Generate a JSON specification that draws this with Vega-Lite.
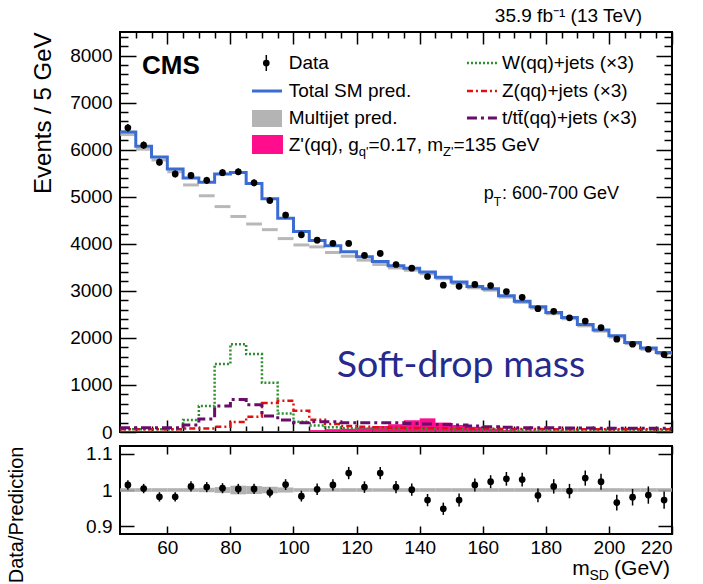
{
"$schema": "https://vega.github.io/schema/vega-lite/v6.json",
"padding": {"left": 5, "top": 5, "right": 5, "bottom": 5},
"background": "white",
"datasets": {
"bins": [
{"lo":45,"hi":50,"c":47.5,"data":6464,"err":80,"pred":6375,"mj":6320,"w3":60,"z3":57,"t3":91,"sig":15,"ratio":1.014,"rerr":0.013,"blo":0.995,"bhi":1.005},
{"lo":50,"hi":55,"c":52.5,"data":6096,"err":78,"pred":6072,"mj":6010,"w3":60,"z3":57,"t3":91,"sig":15,"ratio":1.004,"rerr":0.013,"blo":0.995,"bhi":1.005},
{"lo":55,"hi":60,"c":57.5,"data":5734,"err":76,"pred":5845,"mj":5780,"w3":60,"z3":57,"t3":91,"sig":15,"ratio":0.981,"rerr":0.013,"blo":0.995,"bhi":1.005},
{"lo":60,"hi":65,"c":62.5,"data":5484,"err":74,"pred":5590,"mj":5530,"w3":60,"z3":57,"t3":91,"sig":15,"ratio":0.981,"rerr":0.013,"blo":0.995,"bhi":1.005},
{"lo":65,"hi":70,"c":67.5,"data":5453,"err":74,"pred":5399,"mj":5250,"w3":254,"z3":72,"t3":148,"sig":15,"ratio":1.010,"rerr":0.014,"blo":0.995,"bhi":1.005},
{"lo":70,"hi":75,"c":72.5,"data":5349,"err":73,"pred":5307,"mj":5020,"w3":551,"z3":72,"t3":276,"sig":15,"ratio":1.008,"rerr":0.014,"blo":0.994,"bhi":1.006},
{"lo":75,"hi":80,"c":77.5,"data":5511,"err":74,"pred":5484,"mj":4790,"w3":1443,"z3":113,"t3":551,"sig":15,"ratio":1.005,"rerr":0.014,"blo":0.992,"bhi":1.008},
{"lo":80,"hi":85,"c":82.5,"data":5530,"err":74,"pred":5513,"mj":4580,"w3":1867,"z3":212,"t3":693,"sig":15,"ratio":1.003,"rerr":0.014,"blo":0.988,"bhi":1.012},
{"lo":85,"hi":90,"c":87.5,"data":5296,"err":73,"pred":5280,"mj":4420,"w3":1655,"z3":325,"t3":580,"sig":15,"ratio":1.003,"rerr":0.014,"blo":0.989,"bhi":1.011},
{"lo":90,"hi":95,"c":92.5,"data":4919,"err":70,"pred":4954,"mj":4300,"w3":1047,"z3":615,"t3":339,"sig":15,"ratio":0.993,"rerr":0.014,"blo":0.991,"bhi":1.009},
{"lo":95,"hi":100,"c":97.5,"data":4611,"err":68,"pred":4543,"mj":4110,"w3":395,"z3":665,"t3":254,"sig":15,"ratio":1.015,"rerr":0.015,"blo":0.993,"bhi":1.007},
{"lo":100,"hi":105,"c":102.5,"data":4189,"err":65,"pred":4261,"mj":3975,"w3":219,"z3":453,"t3":198,"sig":20,"ratio":0.983,"rerr":0.015,"blo":0.995,"bhi":1.005},
{"lo":105,"hi":110,"c":107.5,"data":4077,"err":64,"pred":4069,"mj":3934,"w3":140,"z3":260,"t3":220,"sig":40,"ratio":1.002,"rerr":0.016,"blo":0.995,"bhi":1.005},
{"lo":110,"hi":115,"c":112.5,"data":4011,"err":63,"pred":3956,"mj":3814,"w3":100,"z3":170,"t3":220,"sig":60,"ratio":1.014,"rerr":0.016,"blo":0.995,"bhi":1.005},
{"lo":115,"hi":120,"c":117.5,"data":4008,"err":63,"pred":3828,"mj":3736,"w3":80,"z3":130,"t3":197,"sig":70,"ratio":1.047,"rerr":0.017,"blo":0.995,"bhi":1.005},
{"lo":120,"hi":125,"c":122.5,"data":3753,"err":61,"pred":3723,"mj":3652,"w3":70,"z3":110,"t3":197,"sig":90,"ratio":1.008,"rerr":0.016,"blo":0.995,"bhi":1.005},
{"lo":125,"hi":130,"c":127.5,"data":3794,"err":62,"pred":3624,"mj":3560,"w3":65,"z3":100,"t3":197,"sig":130,"ratio":1.047,"rerr":0.017,"blo":0.995,"bhi":1.005},
{"lo":130,"hi":135,"c":132.5,"data":3559,"err":60,"pred":3531,"mj":3486,"w3":65,"z3":90,"t3":197,"sig":165,"ratio":1.008,"rerr":0.017,"blo":0.995,"bhi":1.005},
{"lo":135,"hi":140,"c":137.5,"data":3481,"err":59,"pred":3478,"mj":3438,"w3":60,"z3":85,"t3":180,"sig":250,"ratio":1.001,"rerr":0.017,"blo":0.995,"bhi":1.005},
{"lo":140,"hi":145,"c":142.5,"data":3304,"err":57,"pred":3399,"mj":3364,"w3":60,"z3":80,"t3":170,"sig":290,"ratio":0.972,"rerr":0.017,"blo":0.995,"bhi":1.005},
{"lo":145,"hi":150,"c":147.5,"data":3119,"err":56,"pred":3290,"mj":3258,"w3":60,"z3":80,"t3":160,"sig":200,"ratio":0.948,"rerr":0.017,"blo":0.995,"bhi":1.005},
{"lo":150,"hi":155,"c":152.5,"data":3096,"err":56,"pred":3185,"mj":3155,"w3":55,"z3":75,"t3":150,"sig":150,"ratio":0.972,"rerr":0.018,"blo":0.995,"bhi":1.005},
{"lo":155,"hi":160,"c":157.5,"data":3136,"err":56,"pred":3093,"mj":3063,"w3":55,"z3":70,"t3":130,"sig":110,"ratio":1.014,"rerr":0.018,"blo":0.995,"bhi":1.005},
{"lo":160,"hi":165,"c":162.5,"data":3113,"err":56,"pred":3043,"mj":3013,"w3":55,"z3":70,"t3":110,"sig":70,"ratio":1.023,"rerr":0.018,"blo":0.995,"bhi":1.005},
{"lo":165,"hi":170,"c":167.5,"data":2984,"err":55,"pred":2894,"mj":2866,"w3":50,"z3":65,"t3":100,"sig":40,"ratio":1.031,"rerr":0.019,"blo":0.995,"bhi":1.005},
{"lo":170,"hi":175,"c":172.5,"data":2862,"err":53,"pred":2781,"mj":2754,"w3":50,"z3":65,"t3":90,"sig":30,"ratio":1.029,"rerr":0.019,"blo":0.995,"bhi":1.005},
{"lo":175,"hi":180,"c":177.5,"data":2620,"err":51,"pred":2660,"mj":2633,"w3":50,"z3":65,"t3":90,"sig":30,"ratio":0.985,"rerr":0.019,"blo":0.995,"bhi":1.005},
{"lo":180,"hi":185,"c":182.5,"data":2565,"err":51,"pred":2540,"mj":2513,"w3":50,"z3":60,"t3":90,"sig":25,"ratio":1.010,"rerr":0.020,"blo":0.995,"bhi":1.005},
{"lo":185,"hi":190,"c":187.5,"data":2427,"err":49,"pred":2434,"mj":2407,"w3":45,"z3":60,"t3":85,"sig":25,"ratio":0.997,"rerr":0.020,"blo":0.995,"bhi":1.005},
{"lo":190,"hi":195,"c":192.5,"data":2358,"err":49,"pred":2283,"mj":2256,"w3":45,"z3":60,"t3":85,"sig":20,"ratio":1.033,"rerr":0.021,"blo":0.995,"bhi":1.005},
{"lo":195,"hi":200,"c":197.5,"data":2220,"err":47,"pred":2170,"mj":2143,"w3":45,"z3":60,"t3":80,"sig":20,"ratio":1.023,"rerr":0.022,"blo":0.995,"bhi":1.005},
{"lo":200,"hi":205,"c":202.5,"data":1972,"err":44,"pred":2044,"mj":2017,"w3":45,"z3":57,"t3":80,"sig":20,"ratio":0.965,"rerr":0.022,"blo":0.995,"bhi":1.005},
{"lo":205,"hi":210,"c":207.5,"data":1865,"err":43,"pred":1903,"mj":1876,"w3":45,"z3":57,"t3":80,"sig":15,"ratio":0.980,"rerr":0.023,"blo":0.995,"bhi":1.005},
{"lo":210,"hi":215,"c":212.5,"data":1758,"err":42,"pred":1783,"mj":1756,"w3":45,"z3":57,"t3":80,"sig":15,"ratio":0.986,"rerr":0.024,"blo":0.995,"bhi":1.005},
{"lo":215,"hi":220,"c":217.5,"data":1645,"err":40,"pred":1692,"mj":1665,"w3":45,"z3":57,"t3":80,"sig":15,"ratio":0.972,"rerr":0.024,"blo":0.995,"bhi":1.005}
]
},
"config": {
"view": {"stroke": "black", "strokeWidth": 2},
"font": "Liberation Sans",
"axis": {"domain": false, "grid": false, "tickColor": "black", "tickWidth": 1.5, "labelFont": "Liberation Sans", "labelFontSize": 19, "labelColor": "black", "titleFont": "Liberation Sans", "titleFontWeight": "normal", "titleColor": "black", "minExtent": 0, "zindex": 1},
"text": {"font": "Liberation Sans", "color": "black"}
},
"vconcat": [
{
"width": 552, "height": 400,
"data": {"name": "bins"},
"resolve": {"axis": {"x": "independent", "y": "independent"}},
"layer": [
{"mark": {"type": "rect", "color": "#ff0d8d"},
 "encoding": {
  "x": {"field": "lo", "type": "quantitative", "scale": {"domain": [45, 220], "nice": false, "zero": false}, "axis": {"orient": "bottom", "values": [60,80,100,120,140,160,180,200,220], "labels": false, "tickSize": -12, "title": null}},
  "x2": {"field": "hi"},
  "y": {"field": "sig", "type": "quantitative", "scale": {"domain": [0, 8500], "nice": false}, "axis": {"orient": "left", "values": [0,1000,2000,3000,4000,5000,6000,7000,8000], "format": "d", "tickSize": -16, "labelPadding": 24, "title": "Events / 5 GeV", "titleFontSize": 24, "titleAnchor": "end", "titlePadding": 14}},
  "y2": {"datum": 0}
 }},
{"mark": {"type": "tick", "color": "#a0a0a0", "opacity": 0.75, "size": 15.8, "thickness": 3, "orient": "horizontal"},
 "encoding": {
  "x": {"field": "c", "type": "quantitative", "scale": {"domain": [45, 220], "nice": false, "zero": false}, "axis": {"orient": "top", "values": [60,80,100,120,140,160,180,200,220], "labels": false, "tickSize": -12, "title": null}},
  "y": {"field": "mj", "type": "quantitative", "scale": {"domain": [0, 8500], "nice": false}, "axis": {"orient": "right", "values": [0,1000,2000,3000,4000,5000,6000,7000,8000], "labels": false, "tickSize": -16, "title": null}}
 }},
{"transform": [{"fold": ["lo", "hi"], "as": ["key", "edge"]}],
 "mark": {"type": "line", "color": "#2f8f2f", "strokeWidth": 2.5, "strokeDash": [2, 2]},
 "encoding": {
  "x": {"field": "edge", "type": "quantitative", "scale": {"domain": [45, 220], "nice": false, "zero": false}, "axis": {"orient": "bottom", "values": [50,55,65,70,75,85,90,95,105,110,115,125,130,135,145,150,155,165,170,175,185,190,195,205,210,215], "labels": false, "tickSize": -6, "title": null}},
  "y": {"field": "w3", "type": "quantitative", "scale": {"domain": [0, 8500], "nice": false}, "axis": {"orient": "left", "values": [200,400,600,800,1200,1400,1600,1800,2200,2400,2600,2800,3200,3400,3600,3800,4200,4400,4600,4800,5200,5400,5600,5800,6200,6400,6600,6800,7200,7400,7600,7800,8200,8400], "labels": false, "tickSize": -8, "title": null}},
  "order": [{"field": "edge", "type": "quantitative"}, {"field": "key", "type": "nominal"}]
 }},
{"transform": [{"fold": ["lo", "hi"], "as": ["key", "edge"]}],
 "mark": {"type": "line", "color": "#e01010", "strokeWidth": 2.5, "strokeDash": [6, 3, 2, 3]},
 "encoding": {
  "x": {"field": "edge", "type": "quantitative", "scale": {"domain": [45, 220], "nice": false, "zero": false}, "axis": {"orient": "top", "values": [50,55,65,70,75,85,90,95,105,110,115,125,130,135,145,150,155,165,170,175,185,190,195,205,210,215], "labels": false, "tickSize": -6, "title": null}},
  "y": {"field": "z3", "type": "quantitative", "scale": {"domain": [0, 8500], "nice": false}, "axis": {"orient": "right", "values": [200,400,600,800,1200,1400,1600,1800,2200,2400,2600,2800,3200,3400,3600,3800,4200,4400,4600,4800,5200,5400,5600,5800,6200,6400,6600,6800,7200,7400,7600,7800,8200,8400], "labels": false, "tickSize": -8, "title": null}},
  "order": [{"field": "edge", "type": "quantitative"}, {"field": "key", "type": "nominal"}]
 }},
{"transform": [{"fold": ["lo", "hi"], "as": ["key", "edge"]}],
 "mark": {"type": "line", "color": "#6a0d6a", "strokeWidth": 3, "strokeDash": [10, 4, 3, 4]},
 "encoding": {
  "x": {"field": "edge", "type": "quantitative", "scale": {"domain": [45, 220], "nice": false, "zero": false}, "axis": null},
  "y": {"field": "t3", "type": "quantitative", "scale": {"domain": [0, 8500], "nice": false}, "axis": null},
  "order": [{"field": "edge", "type": "quantitative"}, {"field": "key", "type": "nominal"}]
 }},
{"transform": [{"fold": ["lo", "hi"], "as": ["key", "edge"]}],
 "mark": {"type": "line", "color": "#3a6cd4", "strokeWidth": 3},
 "encoding": {
  "x": {"field": "edge", "type": "quantitative", "scale": {"domain": [45, 220], "nice": false, "zero": false}, "axis": null},
  "y": {"field": "pred", "type": "quantitative", "scale": {"domain": [0, 8500], "nice": false}, "axis": null},
  "order": [{"field": "edge", "type": "quantitative"}, {"field": "key", "type": "nominal"}]
 }},
{"mark": {"type": "errorbar", "color": "black", "thickness": 1.5},
 "encoding": {
  "x": {"field": "c", "type": "quantitative", "scale": {"domain": [45, 220], "nice": false, "zero": false}, "axis": null},
  "y": {"field": "data", "type": "quantitative", "scale": {"domain": [0, 8500], "nice": false}, "axis": null},
  "yError": {"field": "err"}
 }},
{"mark": {"type": "circle", "color": "black", "opacity": 1, "size": 45},
 "encoding": {
  "x": {"field": "c", "type": "quantitative", "scale": {"domain": [45, 220], "nice": false, "zero": false}, "axis": null},
  "y": {"field": "data", "type": "quantitative", "scale": {"domain": [0, 8500], "nice": false}, "axis": null}
 }},
{"data": {"values": [{}]}, "mark": {"type": "text", "fontSize": 26, "fontWeight": "bold", "align": "left", "baseline": "middle"},
 "encoding": {"x": {"datum": 51.97, "type": "quantitative", "scale": {"domain": [45, 220], "nice": false, "zero": false}, "axis": null}, "y": {"datum": 7777, "type": "quantitative", "scale": {"domain": [0, 8500], "nice": false}, "axis": null}, "text": {"value": "CMS"}}},
{"data": {"values": [{}]}, "mark": {"type": "rule", "color": "black", "strokeWidth": 1.5},
 "encoding": {"x": {"datum": 91.38, "type": "quantitative", "scale": {"domain": [45, 220], "nice": false, "zero": false}, "axis": null}, "y": {"datum": 7671, "type": "quantitative", "scale": {"domain": [0, 8500], "nice": false}, "axis": null}, "y2": {"datum": 8011}}},
{"data": {"values": [{}]}, "mark": {"type": "circle", "color": "black", "opacity": 1, "size": 45},
 "encoding": {"x": {"datum": 91.38, "type": "quantitative", "scale": {"domain": [45, 220], "nice": false, "zero": false}, "axis": null}, "y": {"datum": 7841, "type": "quantitative", "scale": {"domain": [0, 8500], "nice": false}, "axis": null}}},
{"data": {"values": [{}]}, "mark": {"type": "rule", "color": "#3a6cd4", "strokeWidth": 3},
 "encoding": {"x": {"datum": 86.85, "type": "quantitative", "scale": {"domain": [45, 220], "nice": false, "zero": false}, "axis": null}, "x2": {"datum": 96.36}, "y": {"datum": 7246, "type": "quantitative", "scale": {"domain": [0, 8500], "nice": false}, "axis": null}}},
{"data": {"values": [{}]}, "mark": {"type": "rect", "color": "#b4b4b4"},
 "encoding": {"x": {"datum": 86.85, "type": "quantitative", "scale": {"domain": [45, 220], "nice": false, "zero": false}, "axis": null}, "x2": {"datum": 96.36}, "y": {"datum": 6842, "type": "quantitative", "scale": {"domain": [0, 8500], "nice": false}, "axis": null}, "y2": {"datum": 6481}}},
{"data": {"values": [{}]}, "mark": {"type": "rect", "color": "#ff0d8d"},
 "encoding": {"x": {"datum": 86.85, "type": "quantitative", "scale": {"domain": [45, 220], "nice": false, "zero": false}, "axis": null}, "x2": {"datum": 96.68}, "y": {"datum": 6311, "type": "quantitative", "scale": {"domain": [0, 8500], "nice": false}, "axis": null}, "y2": {"datum": 5908}}},
{"data": {"values": [{}]}, "mark": {"type": "rule", "color": "#2f8f2f", "strokeWidth": 2.5, "strokeDash": [2, 2]},
 "encoding": {"x": {"datum": 155.0, "type": "quantitative", "scale": {"domain": [45, 220], "nice": false, "zero": false}, "axis": null}, "x2": {"datum": 164.5}, "y": {"datum": 7841, "type": "quantitative", "scale": {"domain": [0, 8500], "nice": false}, "axis": null}}},
{"data": {"values": [{}]}, "mark": {"type": "rule", "color": "#e01010", "strokeWidth": 2.5, "strokeDash": [6, 3, 2, 3]},
 "encoding": {"x": {"datum": 155.0, "type": "quantitative", "scale": {"domain": [45, 220], "nice": false, "zero": false}, "axis": null}, "x2": {"datum": 164.5}, "y": {"datum": 7246, "type": "quantitative", "scale": {"domain": [0, 8500], "nice": false}, "axis": null}}},
{"data": {"values": [{}]}, "mark": {"type": "rule", "color": "#6a0d6a", "strokeWidth": 3, "strokeDash": [10, 4, 3, 4]},
 "encoding": {"x": {"datum": 155.0, "type": "quantitative", "scale": {"domain": [45, 220], "nice": false, "zero": false}, "axis": null}, "x2": {"datum": 164.5}, "y": {"datum": 6672, "type": "quantitative", "scale": {"domain": [0, 8500], "nice": false}, "axis": null}}},
{"data": {"values": [
  {"t": "Data", "gx": 98.48, "gy": 7841},
  {"t": "Total SM pred.", "gx": 98.48, "gy": 7246},
  {"t": "Multijet pred.", "gx": 98.48, "gy": 6672},
  {"t": "Z'(qq), g", "gx": 98.48, "gy": 6099},
  {"t": "=0.17, m", "gx": 123.8, "gy": 6099},
  {"t": "=135 GeV", "gx": 150.7, "gy": 6099},
  {"t": "W(qq)+jets (×3)", "gx": 166.1, "gy": 7841},
  {"t": "Z(qq)+jets (×3)", "gx": 166.1, "gy": 7246},
  {"t": "t/tt̄(qq)+jets (×3)", "gx": 166.1, "gy": 6672}
 ]},
 "mark": {"type": "text", "fontSize": 19, "align": "left", "baseline": "middle"},
 "encoding": {"x": {"field": "gx", "type": "quantitative", "scale": {"domain": [45, 220], "nice": false, "zero": false}, "axis": null}, "y": {"field": "gy", "type": "quantitative", "scale": {"domain": [0, 8500], "nice": false}, "axis": null}, "text": {"field": "t"}}},
{"data": {"values": [
  {"t": "q'", "gx": 120.7, "gy": 5940},
  {"t": "Z'", "gx": 147.4, "gy": 5940}
 ]},
 "mark": {"type": "text", "fontSize": 13, "align": "left", "baseline": "middle"},
 "encoding": {"x": {"field": "gx", "type": "quantitative", "scale": {"domain": [45, 220], "nice": false, "zero": false}, "axis": null}, "y": {"field": "gy", "type": "quantitative", "scale": {"domain": [0, 8500], "nice": false}, "axis": null}, "text": {"field": "t"}}},
{"data": {"values": [
  {"t": "p", "gx": 160.3, "gy": 4951},
  {"t": ": 600-700 GeV", "gx": 166.1, "gy": 4951}
 ]},
 "mark": {"type": "text", "fontSize": 18, "align": "left", "baseline": "alphabetic"},
 "encoding": {"x": {"field": "gx", "type": "quantitative", "scale": {"domain": [45, 220], "nice": false, "zero": false}, "axis": null}, "y": {"field": "gy", "type": "quantitative", "scale": {"domain": [0, 8500], "nice": false}, "axis": null}, "text": {"field": "t"}}},
{"data": {"values": [{}]}, "mark": {"type": "text", "fontSize": 12, "align": "left", "baseline": "alphabetic"},
 "encoding": {"x": {"datum": 163.5, "type": "quantitative", "scale": {"domain": [45, 220], "nice": false, "zero": false}, "axis": null}, "y": {"datum": 4802, "type": "quantitative", "scale": {"domain": [0, 8500], "nice": false}, "axis": null}, "text": {"value": "T"}}},
{"data": {"values": [{}]}, "mark": {"type": "text", "fontSize": 37.5, "font": "Lato", "color": "#262a8c", "align": "center", "baseline": "alphabetic"},
 "encoding": {"x": {"datum": 153.1, "type": "quantitative", "scale": {"domain": [45, 220], "nice": false, "zero": false}, "axis": null}, "y": {"datum": 1175, "type": "quantitative", "scale": {"domain": [0, 8500], "nice": false}, "axis": null}, "text": {"value": "Soft-drop mass"}}},
{"data": {"values": [{}]}, "mark": {"type": "text", "fontSize": 19, "align": "right", "baseline": "middle"},
 "encoding": {"x": {"datum": 210.5, "type": "quantitative", "scale": {"domain": [45, 220], "nice": false, "zero": false}, "axis": null}, "y": {"datum": 8840, "type": "quantitative", "scale": {"domain": [0, 8500], "nice": false}, "axis": null}, "text": {"value": "35.9 fb⁻¹ (13 TeV)"}}}
]
},
{
"width": 552, "height": 88,
"data": {"name": "bins"},
"resolve": {"axis": {"x": "independent", "y": "independent"}},
"layer": [
{"mark": {"type": "rect", "color": "#a8a8a8", "opacity": 0.9},
 "encoding": {
  "x": {"field": "lo", "type": "quantitative", "scale": {"domain": [45, 220], "nice": false, "zero": false}, "axis": {"orient": "bottom", "values": [60,80,100,120,140,160,180,200,220], "format": "d", "tickSize": -8, "labelPadding": 12, "title": null}},
  "x2": {"field": "hi"},
  "y": {"field": "blo", "type": "quantitative", "scale": {"domain": [0.878, 1.122], "nice": false, "zero": false}, "axis": {"orient": "left", "values": [0.9, 1, 1.1], "format": "~g", "tickSize": -14, "labelPadding": 22, "title": "Data/Prediction", "titleFontSize": 20, "titleAnchor": "end", "titlePadding": 59}},
  "y2": {"field": "bhi"}
 }},
{"mark": {"type": "errorbar", "color": "black", "thickness": 1.5},
 "encoding": {
  "x": {"field": "c", "type": "quantitative", "scale": {"domain": [45, 220], "nice": false, "zero": false}, "axis": {"orient": "top", "values": [60,80,100,120,140,160,180,200,220], "labels": false, "tickSize": -8, "title": null}},
  "y": {"field": "ratio", "type": "quantitative", "scale": {"domain": [0.878, 1.122], "nice": false, "zero": false}, "axis": {"orient": "right", "values": [0.9, 1, 1.1], "labels": false, "tickSize": -14, "title": null}},
  "yError": {"field": "rerr"}
 }},
{"mark": {"type": "circle", "color": "black", "opacity": 1, "size": 45},
 "encoding": {
  "x": {"field": "c", "type": "quantitative", "scale": {"domain": [45, 220], "nice": false, "zero": false}, "axis": null},
  "y": {"field": "ratio", "type": "quantitative", "scale": {"domain": [0.878, 1.122], "nice": false, "zero": false}, "axis": null}
 }},
{"data": {"values": [
  {"t": "m", "gx": 193.9, "gy": 0.764},
  {"t": "(GeV)", "gx": 219.4, "gy": 0.764}
 ]},
 "mark": {"type": "text", "fontSize": 21, "align": "right", "baseline": "alphabetic"},
 "encoding": {"x": {"field": "gx", "type": "quantitative", "scale": {"domain": [45, 220], "nice": false, "zero": false}, "axis": null}, "y": {"field": "gy", "type": "quantitative", "scale": {"domain": [0.878, 1.122], "nice": false, "zero": false}, "axis": null}, "text": {"field": "t"}}},
{"data": {"values": [{}]}, "mark": {"type": "text", "fontSize": 14, "align": "right", "baseline": "alphabetic"},
 "encoding": {"x": {"datum": 200.0, "type": "quantitative", "scale": {"domain": [45, 220], "nice": false, "zero": false}, "axis": null}, "y": {"datum": 0.750, "type": "quantitative", "scale": {"domain": [0.878, 1.122], "nice": false, "zero": false}, "axis": null}, "text": {"value": "SD"}}}
]
}
],
"spacing": 14,
"bounds": "flush"
}
